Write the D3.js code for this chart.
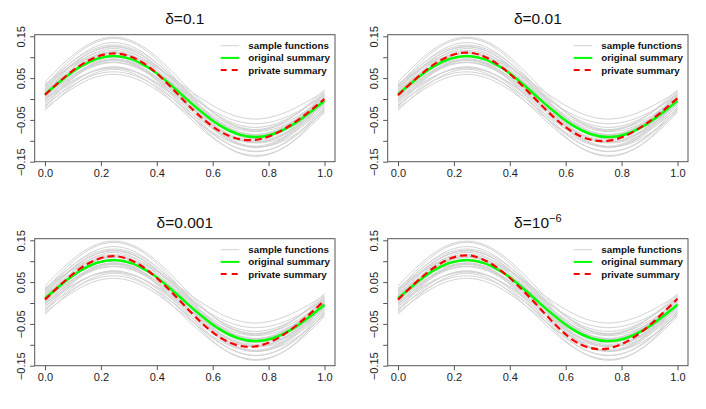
<!DOCTYPE html>
<html>
<head>
<meta charset="utf-8">
<script src="https://cdn.jsdelivr.net/npm/d3@7"></script>
<style>
  body { margin: 0; background: #fff; }
  svg { display: block; font-family: "Liberation Sans", Arial, sans-serif; }
</style>
</head>
<body>
<div id="chart"></div>
<script>

// data ====================

var gridX = [0, 0.125, 0.25, 0.375, 0.5, 0.625, 0.75, 0.875, 1];

var sampleFunctions = [
  [0.041, 0.118, 0.148, 0.114, 0.034, -0.044, -0.076, -0.047, 0.022],
  [0.036, 0.089, 0.110, 0.085, 0.029, -0.025, -0.048, -0.028, 0.018],
  [0.033, 0.102, 0.129, 0.098, 0.026, -0.044, -0.073, -0.047, 0.016],
  [0.031, 0.113, 0.145, 0.109, 0.024, -0.059, -0.093, -0.062, 0.014],
  [0.029, 0.092, 0.116, 0.088, 0.022, -0.042, -0.068, -0.045, 0.012],
  [0.027, 0.104, 0.135, 0.100, 0.020, -0.058, -0.091, -0.061, 0.011],
  [0.025, 0.097, 0.125, 0.093, 0.018, -0.055, -0.085, -0.058, 0.009],
  [0.023, 0.075, 0.095, 0.071, 0.016, -0.037, -0.059, -0.040, 0.008],
  [0.021, 0.096, 0.125, 0.092, 0.014, -0.062, -0.093, -0.065, 0.006],
  [0.019, 0.086, 0.113, 0.082, 0.012, -0.056, -0.085, -0.059, 0.004],
  [0.018, 0.077, 0.100, 0.073, 0.011, -0.049, -0.074, -0.052, 0.004],
  [0.016, 0.095, 0.126, 0.091, 0.009, -0.071, -0.104, -0.074, 0.002],
  [0.014, 0.079, 0.104, 0.075, 0.007, -0.059, -0.086, -0.062, 0.000],
  [0.012, 0.082, 0.109, 0.078, 0.005, -0.066, -0.095, -0.069, -0.001],
  [0.010, 0.066, 0.088, 0.062, 0.003, -0.054, -0.078, -0.057, -0.003],
  [0.009, 0.089, 0.121, 0.085, 0.002, -0.079, -0.113, -0.082, -0.004],
  [0.008, 0.081, 0.110, 0.077, 0.001, -0.073, -0.104, -0.076, -0.004],
  [0.006, 0.068, 0.092, 0.064, -0.001, -0.064, -0.090, -0.067, -0.006],
  [0.003, 0.080, 0.111, 0.076, -0.004, -0.082, -0.115, -0.085, -0.008],
  [0.001, 0.068, 0.095, 0.064, -0.006, -0.074, -0.103, -0.077, -0.010],
  [-0.001, 0.062, 0.087, 0.058, -0.008, -0.072, -0.099, -0.075, -0.012],
  [-0.002, 0.053, 0.074, 0.049, -0.009, -0.065, -0.088, -0.068, -0.012],
  [-0.005, 0.067, 0.096, 0.063, -0.012, -0.085, -0.116, -0.088, -0.015],
  [-0.008, 0.052, 0.076, 0.048, -0.015, -0.076, -0.102, -0.079, -0.017],
  [-0.011, 0.064, 0.094, 0.060, -0.018, -0.094, -0.126, -0.097, -0.020],
  [-0.015, 0.043, 0.065, 0.039, -0.022, -0.081, -0.105, -0.084, -0.023],
  [-0.017, 0.062, 0.093, 0.058, -0.024, -0.104, -0.137, -0.107, -0.024],
  [-0.019, 0.050, 0.077, 0.046, -0.026, -0.096, -0.125, -0.099, -0.026],
  [-0.023, 0.036, 0.059, 0.032, -0.030, -0.090, -0.115, -0.093, -0.029],
  [-0.027, 0.043, 0.071, 0.039, -0.034, -0.105, -0.135, -0.108, -0.032]
];

var originalSummary = [0.011, 0.077, 0.103, 0.073, 0.004, -0.063, -0.091, -0.066, -0.004];

var privateSummaries = [
  [0.010, 0.080, 0.109, 0.075, -0.006, -0.077, -0.098, -0.064, 0.000],
  [0.009, 0.081, 0.111, 0.074, -0.006, -0.079, -0.100, -0.065, 0.002],
  [0.008, 0.082, 0.112, 0.074, -0.007, -0.082, -0.104, -0.066, 0.006],
  [0.008, 0.083, 0.114, 0.074, -0.007, -0.088, -0.109, -0.067, 0.010]
];

// title text and superscript part
var deltaTitles = [["δ=0.1", ""], ["δ=0.01", ""], ["δ=0.001", ""], ["δ=10", "−6"]];

var xTicks = [0, 0.2, 0.4, 0.6, 0.8, 1];
var yTicks = [-0.15, -0.10, -0.05, 0, 0.05, 0.10, 0.15];
var yTickLabels = [-0.15, -0.05, 0.05, 0.15];

var legendLabels = ["sample functions", "original summary", "private summary"];

// layout ====================

var width = 706, height = 409;
var panelW = 353, panelH = 204;
var box = { left: 34.7, right: 335, top: 34.7, bottom: 161.7 };

var svg = d3.select('#chart')
  .append('svg')
  .attr('width', width)
  .attr('height', height);

var x = d3.scaleLinear().domain([0, 1]).range([45, 324.5]);
var y = d3.scaleLinear().domain([-0.15, 0.15]).range([161.7, 36.3]);

var line = d3.line()
  .x(function(d, i) { return x(gridX[i]); })
  .y(function(d) { return y(d); })
  .curve(d3.curveNatural);

var gray = '#d3d3d3', green = '#00ff00', red = '#ff0000';

privateSummaries.forEach(function(priv, p) {
  var g = svg.append('g')
    .attr('transform', 'translate(' + (p % 2) * panelW + ',' + Math.floor(p / 2) * panelH + ')');

  // curves
  g.append('g').selectAll('path')
    .data(sampleFunctions)
    .enter().append('path')
    .attr('d', line)
    .attr('fill', 'none')
    .attr('stroke', gray)
    .attr('stroke-width', 1);

  g.append('path')
    .attr('d', line(originalSummary))
    .attr('fill', 'none')
    .attr('stroke', green)
    .attr('stroke-width', 2.5);

  g.append('path')
    .attr('d', line(priv))
    .attr('fill', 'none')
    .attr('stroke', red)
    .attr('stroke-width', 2.2)
    .attr('stroke-dasharray', '7,4');

  // axes
  var xAxis = g.append('g')
    .attr('transform', 'translate(0,' + box.bottom + ')')
    .call(d3.axisBottom(x).tickValues(xTicks).tickSize(4.5).tickPadding(3).tickFormat(d3.format('.1f')));

  var yAxis = g.append('g')
    .attr('transform', 'translate(' + box.left + ',0)')
    .call(d3.axisLeft(y).tickValues(yTicks).tickSize(4.5)
      .tickFormat(function(d) { return yTickLabels.some(function(v) { return Math.abs(v - d) < 1e-9; }) ? d3.format('.2f')(d).replace('-', '−') : ''; }));

  [xAxis, yAxis].forEach(function(a) {
    a.select('.domain').remove();
    a.selectAll('line').attr('stroke', '#555');
    a.selectAll('text').attr('fill', '#222').style('font-size', '11px')
      .style('font-family', '"Liberation Sans", Arial, sans-serif');
  });

  yAxis.selectAll('text')
    .attr('x', null).attr('dy', null)
    .attr('text-anchor', 'middle')
    .attr('transform', 'translate(-9.5,0) rotate(-90)');

  g.append('rect')
    .attr('x', box.left)
    .attr('y', box.top)
    .attr('width', box.right - box.left)
    .attr('height', box.bottom - box.top)
    .attr('fill', 'none')
    .attr('stroke', '#555')
    .attr('stroke-width', 1);

  // title
  var t = g.append('text')
    .attr('x', (box.left + box.right) / 2)
    .attr('y', 24)
    .attr('text-anchor', 'middle')
    .attr('fill', '#111')
    .style('font-size', '15.5px')
    .text(deltaTitles[p][0]);
  if (deltaTitles[p][1]) {
    t.append('tspan')
      .attr('dy', -6.5)
      .style('font-size', '11px')
      .text(deltaTitles[p][1]);
  }

  // legend
  var legendColors = [gray, green, red];
  var legend = g.append('g');
  legendLabels.forEach(function(label, i) {
    var ly = 45.7 + i * 12.2;
    legend.append('line')
      .attr('x1', 220.7).attr('x2', 239.3)
      .attr('y1', ly).attr('y2', ly)
      .attr('stroke', legendColors[i])
      .attr('stroke-width', i == 0 ? 1 : 2)
      .attr('stroke-dasharray', i == 2 ? '6,5' : null);
    legend.append('text')
      .attr('x', 248.3)
      .attr('y', ly)
      .attr('dy', '0.35em')
      .attr('fill', '#111')
      .style('font-size', '9.8px')
      .style('font-weight', 'bold')
      .text(label);
  });
});

</script>
</body>
</html>
